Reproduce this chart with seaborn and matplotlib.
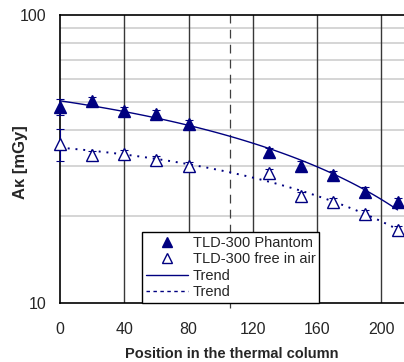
import numpy as np
import pandas as pd
import seaborn as sns
import matplotlib.pyplot as plt
from matplotlib.lines import Line2D
from matplotlib.ticker import FixedLocator, NullFormatter, MultipleLocator

# positions in the thermal column
pos = [0, 20, 40, 60, 80, 130, 150, 170, 190, 210]
phantom = [48.0, 50.3, 46.4, 45.3, 41.8, 33.4, 29.9, 27.8, 24.3, 22.4]
phantom_err = [3.0, 1.6, 1.6, 1.6, 1.5, 1.2, 1.1, 1.0, 0.9, 0.8]
air = [35.6, 32.6, 32.9, 31.4, 29.9, 28.3, 23.5, 22.4, 20.4, 17.9]
air_err = [4.5, 1.0, 1.0, 0.9, 0.9, 0.9, 0.7, 0.7, 0.6, 0.6]
x_ticks = [0, 40, 80, 120, 160, 200]

df = pd.DataFrame({"pos": pos, "phantom": phantom, "air": air})

# trend curves (quadratic fit)
xs = np.linspace(0, 210, 100)
trend = pd.DataFrame({
    "x": xs,
    "phantom": np.polyval(np.polyfit(pos, phantom, 2), xs),
    "air": np.polyval(np.polyfit(pos, air, 2), xs),
})

sns.set_style("white")
plt.rcParams["font.family"] = ["Liberation Sans", "DejaVu Sans"]

navy = "#000080"
fig = plt.figure(figsize=(4.04, 3.62), dpi=100)
ax = fig.add_axes([0.1485, 0.163, 0.8515, 0.7956])

ax.set_yscale("log")
ax.set_xlim(0, 214)
ax.set_ylim(10, 100)

# grid
for v in range(20, 100, 10):
    ax.axhline(v, color="#d2d2d2", lw=1.3, zorder=0)
for v in x_ticks[1:]:
    ax.axvline(v, color="#383838", lw=1.0, zorder=0)
ax.plot([106, 106], [9.6, 100], color="#404040", lw=0.9, ls=(0, (7, 5)),
        clip_on=False, zorder=0)

sns.lineplot(data=trend, x="x", y="phantom", ax=ax, color=navy, lw=1.0,
             label="_nolegend_")
sns.lineplot(data=trend, x="x", y="air", ax=ax, color=navy, lw=1.4,
             ls=(0, (1, 3)), label="_nolegend_")

for vals, errs, face in [(phantom, phantom_err, navy), (air, air_err, "white")]:
    eb = ax.errorbar(pos, vals, yerr=errs, fmt="^", color=navy, mfc=face,
                     ms=8, capsize=3, elinewidth=0.8, capthick=0.8, zorder=3)
    for art in eb.get_children():
        art.set_clip_on(False)

ax.set_xticks(x_ticks)
ax.xaxis.set_minor_locator(MultipleLocator(10))
ax.yaxis.set_major_locator(FixedLocator([10, 100]))
ax.yaxis.set_minor_locator(FixedLocator(list(range(20, 100, 10))))
ax.yaxis.set_minor_formatter(NullFormatter())
ax.set_yticklabels(["10", "100"])
ax.tick_params(axis="both", which="both", direction="in", color="#404040",
               labelsize=11.5)
ax.tick_params(which="major", length=0)
ax.tick_params(which="minor", length=4, width=0.8)
ax.tick_params(axis="x", pad=14)
ax.tick_params(axis="y", pad=10)

for s in ["left", "bottom", "top"]:
    ax.spines[s].set_color("black")
    ax.spines[s].set_linewidth(1.2)
ax.spines["right"].set_visible(False)

ax.set_xlabel("Position in the thermal column", fontsize=10.5, fontweight="bold")
ax.set_ylabel("Aκ [mGy]", fontsize=12, fontweight="bold")
ax.xaxis.set_label_coords(0.5, -0.153)
ax.yaxis.set_label_coords(-0.093, 0.49)

handles = [
    Line2D([], [], marker="^", ls="none", color=navy, ms=6.5),
    Line2D([], [], marker="^", ls="none", color=navy, mfc="white", ms=6.5),
    Line2D([], [], color=navy, lw=1.0),
    Line2D([], [], color=navy, lw=1.0, ls=(0, (2.5, 2.5))),
]
labels = ["TLD-300 Phantom", "TLD-300 free in air", "Trend", "Trend"]
leg = ax.legend(handles, labels, loc="lower left", bbox_to_anchor=(0.238, 0.0),
                fontsize=10.5, frameon=True, fancybox=False, framealpha=1,
                edgecolor="black", handlelength=2.9, handletextpad=0.35,
                borderpad=0.25, labelspacing=0.17, borderaxespad=0)
leg.get_frame().set_linewidth(1.0)
leg.set_zorder(5)

fig.savefig("out.png", dpi=100)
